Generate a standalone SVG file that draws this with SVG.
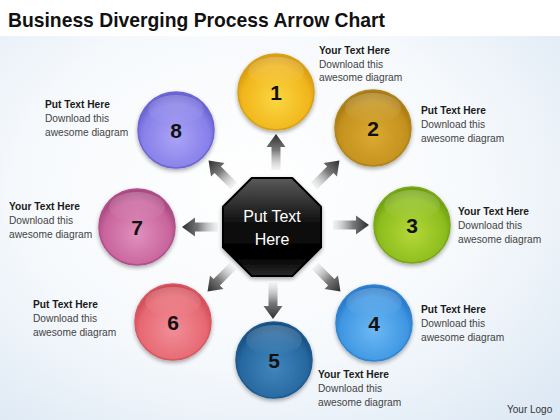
<svg xmlns="http://www.w3.org/2000/svg" xmlns:xlink="http://www.w3.org/1999/xlink" width="560" height="420" viewBox="0 0 560 420">
<defs>
<radialGradient id="bg" cx="0.45" cy="0.45" r="0.75">
<stop offset="0" stop-color="#ffffff"/>
<stop offset="0.55" stop-color="#f6f9fc"/>
<stop offset="1" stop-color="#dce8f4"/>
</radialGradient>
<linearGradient id="arrG" x1="0" y1="0" x2="1" y2="0">
<stop offset="0" stop-color="#d8d8d8" stop-opacity="0.3"/>
<stop offset="0.55" stop-color="#7a7a7a"/>
<stop offset="1" stop-color="#2e2e2e"/>
</linearGradient>
<linearGradient id="octG" x1="0" y1="0" x2="0" y2="1">
<stop offset="0" stop-color="#5a5a5a"/>
<stop offset="0.45" stop-color="#111111"/>
<stop offset="0.8" stop-color="#000000"/>
<stop offset="1" stop-color="#2a2a2a"/>
</linearGradient>
<radialGradient id="g1" cx="0.5" cy="0.6" r="0.55"><stop offset="0" stop-color="#fbd640"/><stop offset="0.8" stop-color="#f1b61c"/><stop offset="1" stop-color="#d99e12"/></radialGradient>
<radialGradient id="g2" cx="0.5" cy="0.6" r="0.55"><stop offset="0" stop-color="#dcaa30"/><stop offset="0.8" stop-color="#c4921e"/><stop offset="1" stop-color="#a87a14"/></radialGradient>
<radialGradient id="g3" cx="0.5" cy="0.6" r="0.55"><stop offset="0" stop-color="#b4d83a"/><stop offset="0.8" stop-color="#8dbd1e"/><stop offset="1" stop-color="#70a010"/></radialGradient>
<radialGradient id="g4" cx="0.5" cy="0.6" r="0.55"><stop offset="0" stop-color="#6cb8f4"/><stop offset="0.8" stop-color="#3f97e2"/><stop offset="1" stop-color="#2a78c8"/></radialGradient>
<radialGradient id="g5" cx="0.5" cy="0.6" r="0.55"><stop offset="0" stop-color="#3f86bd"/><stop offset="0.8" stop-color="#27689f"/><stop offset="1" stop-color="#184f82"/></radialGradient>
<radialGradient id="g6" cx="0.5" cy="0.6" r="0.55"><stop offset="0" stop-color="#f28e98"/><stop offset="0.8" stop-color="#e66872"/><stop offset="1" stop-color="#d04c58"/></radialGradient>
<radialGradient id="g7" cx="0.5" cy="0.6" r="0.55"><stop offset="0" stop-color="#e090bc"/><stop offset="0.8" stop-color="#c8649c"/><stop offset="1" stop-color="#a84880"/></radialGradient>
<radialGradient id="g8" cx="0.5" cy="0.6" r="0.55"><stop offset="0" stop-color="#aaa4f6"/><stop offset="0.8" stop-color="#8780ea"/><stop offset="1" stop-color="#6a62d0"/></radialGradient>
<linearGradient id="hl" x1="0" y1="0" x2="0" y2="1">
<stop offset="0" stop-color="#ffffff" stop-opacity="0.22"/>
<stop offset="1" stop-color="#ffffff" stop-opacity="0"/>
</linearGradient>
<filter id="sh" x="-20%" y="-20%" width="140%" height="140%">
<feGaussianBlur in="SourceAlpha" stdDeviation="2"/>
<feOffset dx="0" dy="2" result="b"/>
<feComponentTransfer><feFuncA type="linear" slope="0.35"/></feComponentTransfer>
<feMerge><feMergeNode/><feMergeNode in="SourceGraphic"/></feMerge>
</filter>
<path id="arr" d="M0,-4.5 L23,-4.5 L23,-9.5 L36,0 L23,9.5 L23,4.5 L0,4.5 Z" fill="url(#arrG)"/>
</defs>
<style>
.title{font-family:"Liberation Sans",Arial,sans-serif;font-weight:bold;font-size:21px;fill:#111}
.num{font-family:"Liberation Sans",Arial,sans-serif;font-weight:bold;font-size:21px;fill:#111;text-anchor:middle}
.lb{font-family:"Liberation Sans",Arial,sans-serif;font-weight:bold;font-size:10.2px;fill:#1a1a1a}
.lt{font-family:"Liberation Sans",Arial,sans-serif;font-size:10.2px;fill:#444}
.ct{font-family:"Liberation Sans",Arial,sans-serif;font-size:16px;fill:#fff;text-anchor:middle}
.logo{font-family:"Liberation Sans",Arial,sans-serif;font-size:10px;fill:#333}
.circ{stroke-width:1.5;filter:url(#sh)}
</style>
<rect x="0" y="0" width="560" height="420" fill="url(#bg)"/>
<rect x="0" y="0" width="560" height="36" fill="#ffffff"/>
<text class="title" x="8" y="27" textLength="377" lengthAdjust="spacingAndGlyphs">Business Diverging Process Arrow Chart</text>

<g id="connectors">
<use xlink:href="#arr" transform="translate(276,170) rotate(-90)"/>
<use xlink:href="#arr" transform="translate(314,186) rotate(-45)"/>
<use xlink:href="#arr" transform="translate(333,225)"/>
<use xlink:href="#arr" transform="translate(315,266) rotate(45)"/>
<use xlink:href="#arr" transform="translate(273,283) rotate(90)"/>
<use xlink:href="#arr" transform="translate(233,266) rotate(135)"/>
<use xlink:href="#arr" transform="translate(218,227) rotate(180)"/>
<use xlink:href="#arr" transform="translate(234,186) rotate(-135)"/>
</g>

<g id="center">
<polygon points="251.7,178 292.3,178 321,206.7 321,247.3 292.3,276 251.7,276 223,247.3 223,206.7" fill="url(#octG)" stroke="#000" stroke-width="2" filter="url(#sh)"/>
<text class="ct" x="272" y="222">Put Text</text>
<text class="ct" x="272" y="245">Here</text>
</g>

<g id="node1">
<circle class="circ" cx="276" cy="92" r="38" fill="url(#g1)" stroke="#d6a21a"/>
<ellipse cx="276" cy="72" rx="28" ry="15" fill="url(#hl)"/>
<text class="num" x="276" y="100">1</text>
<text class="lb" x="319" y="54">Your Text Here</text>
<text class="lt" x="319" y="68">Download this</text>
<text class="lt" x="319" y="81">awesome diagram</text>
</g>
<g id="node2">
<circle class="circ" cx="373" cy="128" r="38" fill="url(#g2)" stroke="#b08418"/>
<ellipse cx="373" cy="108" rx="28" ry="15" fill="url(#hl)"/>
<text class="num" x="373" y="136">2</text>
<text class="lb" x="421" y="114">Put Text Here</text>
<text class="lt" x="421" y="128">Download this</text>
<text class="lt" x="421" y="142">awesome diagram</text>
</g>
<g id="node3">
<circle class="circ" cx="412" cy="225" r="38" fill="url(#g3)" stroke="#7aa818"/>
<ellipse cx="412" cy="205" rx="28" ry="15" fill="url(#hl)"/>
<text class="num" x="412" y="233">3</text>
<text class="lb" x="458" y="215">Your Text Here</text>
<text class="lt" x="458" y="229">Download this</text>
<text class="lt" x="458" y="243">awesome diagram</text>
</g>
<g id="node4">
<circle class="circ" cx="374" cy="323" r="38" fill="url(#g4)" stroke="#2f86d6"/>
<ellipse cx="374" cy="303" rx="28" ry="15" fill="url(#hl)"/>
<text class="num" x="374" y="331">4</text>
<text class="lb" x="421" y="313">Put Text Here</text>
<text class="lt" x="421" y="327">Download this</text>
<text class="lt" x="421" y="341">awesome diagram</text>
</g>
<g id="node5">
<circle class="circ" cx="274" cy="360" r="38" fill="url(#g5)" stroke="#1c5a90"/>
<ellipse cx="274" cy="340" rx="28" ry="15" fill="url(#hl)"/>
<text class="num" x="274" y="368">5</text>
<text class="lb" x="318" y="378">Your Text Here</text>
<text class="lt" x="318" y="392">Download this</text>
<text class="lt" x="318" y="406">awesome diagram</text>
</g>
<g id="node6">
<circle class="circ" cx="173" cy="322" r="38" fill="url(#g6)" stroke="#d85864"/>
<ellipse cx="173" cy="302" rx="28" ry="15" fill="url(#hl)"/>
<text class="num" x="173" y="330">6</text>
<text class="lb" x="33" y="308">Put Text Here</text>
<text class="lt" x="33" y="322">Download this</text>
<text class="lt" x="33" y="336">awesome diagram</text>
</g>
<g id="node7">
<circle class="circ" cx="137" cy="227" r="38" fill="url(#g7)" stroke="#b0508a"/>
<ellipse cx="137" cy="207" rx="28" ry="15" fill="url(#hl)"/>
<text class="num" x="137" y="235">7</text>
<text class="lb" x="9" y="210">Your Text Here</text>
<text class="lt" x="9" y="224">Download this</text>
<text class="lt" x="9" y="238">awesome diagram</text>
</g>
<g id="node8">
<circle class="circ" cx="176" cy="130" r="38" fill="url(#g8)" stroke="#6e66d4"/>
<ellipse cx="176" cy="110" rx="28" ry="15" fill="url(#hl)"/>
<text class="num" x="176" y="138">8</text>
<text class="lb" x="45" y="108">Put Text Here</text>
<text class="lt" x="45" y="122">Download this</text>
<text class="lt" x="45" y="136">awesome diagram</text>
</g>
<text class="logo" x="507" y="413">Your Logo</text>
</svg>
